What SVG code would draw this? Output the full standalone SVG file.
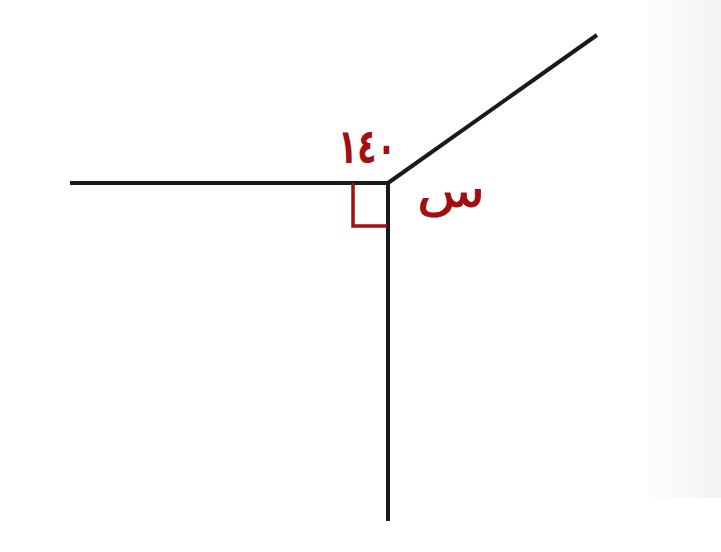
<svg xmlns="http://www.w3.org/2000/svg" width="721" height="552" viewBox="0 0 721 552">
<defs>
<linearGradient id="bg" x1="0" y1="0" x2="1" y2="0">
<stop offset="0" stop-color="#fdfdfd"/>
<stop offset="0.6" stop-color="#f7f7f7"/>
<stop offset="1" stop-color="#f3f3f3"/>
</linearGradient>
<style>
.ray{stroke:#1a1a1a;stroke-width:4;fill:none;stroke-linecap:butt}
.mark{stroke:#a30f0f;stroke-width:3.5;fill:none}
.lbl{fill:#a30f0f;font-family:"DejaVu Sans",sans-serif}
</style>
</defs>
<rect width="721" height="552" fill="#ffffff"/>
<rect x="648" y="0" width="73" height="498" fill="url(#bg)"/>
<g id="connectors">
<line class="ray" x1="70" y1="183" x2="388" y2="183"/>
<line class="ray" x1="388" y1="183" x2="388" y2="521"/>
<line class="ray" x1="388" y1="183" x2="597" y2="35"/>
</g>
<g id="right-angle">
<polyline class="mark" points="353,183 353,226 387,226"/>
</g>
<g id="label-140">
<text class="lbl" x="367" y="163" font-size="48" font-weight="bold" text-anchor="middle" textLength="58" lengthAdjust="spacingAndGlyphs">١٤٠</text>
</g>
<g id="label-x">
<text class="lbl" x="451" y="207" font-size="46" text-anchor="middle" textLength="68" lengthAdjust="spacingAndGlyphs" stroke="#a30f0f" stroke-width="0.8">س</text>
</g>
</svg>
